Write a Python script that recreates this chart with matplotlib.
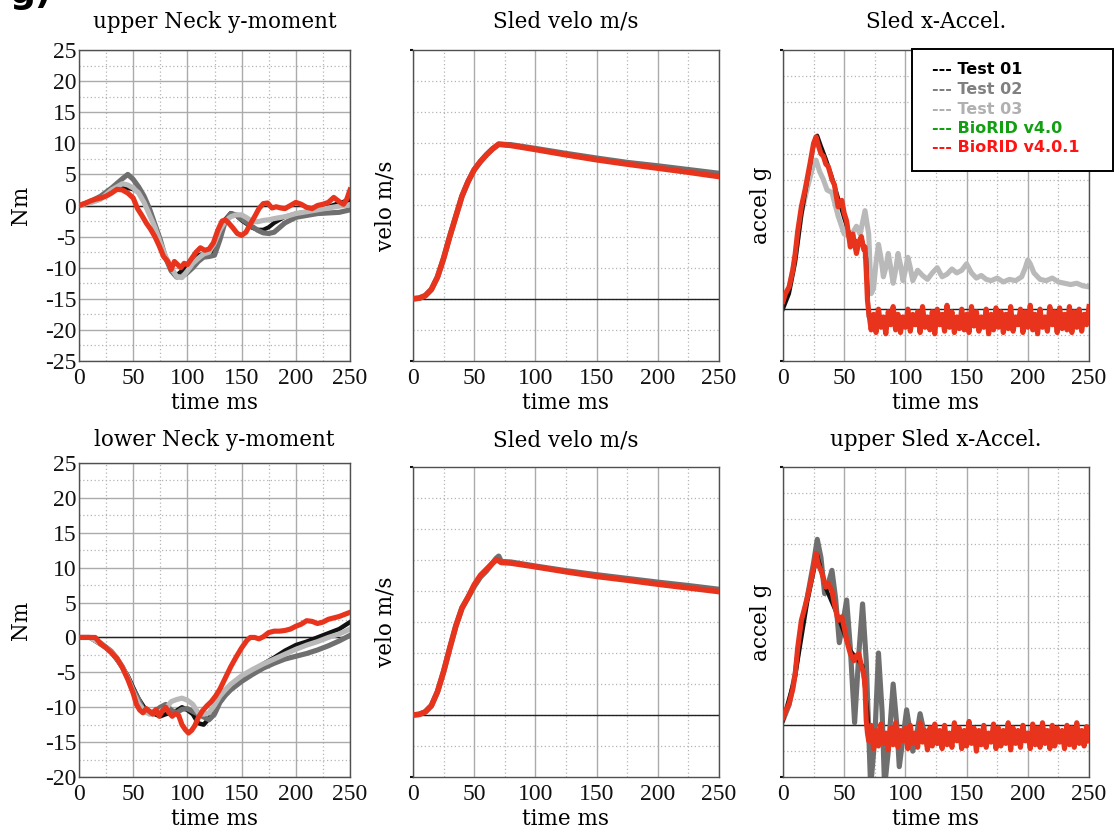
import numpy as np
import matplotlib
matplotlib.use("Agg")
import matplotlib.pyplot as plt
from matplotlib.patches import Rectangle
from matplotlib.ticker import MultipleLocator

plt.rcParams['font.family'] = ['DejaVu Serif']
plt.rcParams['axes.unicode_minus'] = False

# Farben der Kurven
C_T01 = '#111111'
C_T02 = '#6f6f6f'
C_T03 = '#b9b9b9'
C_RED = '#e8341c'

# ---------------- upper Neck y-moment ----------------
un_red_t = [0, 5, 10, 15, 20, 25, 30, 35, 40, 45, 50, 54, 58, 62, 66, 70, 74, 78, 82, 85,
            88, 91, 94, 97, 100, 104, 108, 112, 116, 120, 124, 128, 132, 135, 138, 142, 146, 150, 154, 158,
            162, 166, 170, 174, 178, 182, 186, 190, 195, 200, 205, 210, 215, 220, 225, 230, 235, 238, 241, 244,
            247, 250]
un_red = [0, 0.3, 0.7, 1.0, 1.2, 1.5, 2.0, 2.6, 2.5, 2.0, 1.2, -0.5, -1.6, -2.8, -3.8, -5.0, -6.5, -8.2, -9.0, -10.3,
          -9.0, -9.5, -10.0, -9.3, -9.5, -8.5, -7.5, -6.8, -7.2, -7.0, -6.0, -4.0, -2.5, -2.3, -2.8, -3.6, -4.5, -4.8, -4.3, -3.0,
          -1.8, -0.5, 0.3, 0.4, -0.4, -0.2, -0.4, -0.5, 0.0, 0.5, 0.2, -0.3, -0.5, 0.0, 0.2, 0.5, 1.3, 0.9, 0.5, 0.2,
          1.0, 2.5]
un_t = [0, 10, 20, 30, 40, 45, 50, 55, 60, 65, 70, 75, 80, 85, 90, 95, 100, 105, 110, 115,
        120, 125, 130, 135, 140, 145, 150, 155, 160, 165, 170, 175, 180, 190, 200, 210, 220, 230, 240, 250]
un_t01 = [0, 0.5, 1.2, 2.2, 3.0, 2.8, 2.6, 2.3, 1.0, -1.2, -3.5, -6.0, -8.5, -10.3, -11.2, -10.5, -9.8, -9.0, -8.0, -7.8,
          -7.8, -7.2, -4.5, -2.2, -1.2, -1.6, -2.4, -3.0, -3.6, -3.9, -3.9, -3.5, -2.8, -1.8, -1.3, -1.0, -0.7, -0.2, 0.4, 0.9]
un_t02 = [0, 0.6, 1.5, 2.8, 4.3, 5.0, 4.2, 3.0, 1.5, -0.5, -3.0, -5.5, -8.5, -10.5, -11.5, -11.4, -10.8, -10.0, -9.0, -8.3,
          -8.2, -8.0, -5.5, -2.5, -1.3, -1.5, -2.2, -2.8, -3.4, -4.0, -4.4, -4.5, -4.3, -2.8, -1.9, -1.6, -1.3, -1.2, -1.1, -0.7]
un_t03 = [0, 0.4, 1.0, 2.5, 3.5, 3.3, 2.8, 2.0, 0.5, -1.5, -3.5, -6.0, -8.2, -10.0, -11.4, -11.6, -10.5, -9.3, -8.5, -7.8,
          -7.5, -6.0, -3.9, -2.5, -1.8, -1.5, -1.5, -2.0, -2.6, -2.6, -2.4, -2.3, -2.1, -1.8, -1.3, -1.0, -0.7, -0.4, -0.1, 0.1]

# ---------------- lower Neck y-moment ----------------
ln_red_t = [0, 10, 15, 20, 25, 30, 35, 40, 45, 50, 53, 56, 59, 62, 65, 68, 71, 74, 77, 80,
            83, 86, 89, 92, 95, 98, 101, 104, 107, 110, 114, 118, 122, 126, 130, 135, 140, 145, 150, 155,
            158, 162, 166, 170, 175, 180, 185, 190, 195, 200, 205, 210, 215, 220, 225, 230, 235, 240, 245, 250]
ln_red = [0, 0, 0, -0.9, -1.5, -2.2, -3.0, -4.3, -6.0, -8.0, -9.6, -10.4, -10.8, -10.2, -10.6, -11.0, -10.3, -11.3, -10.5, -10.0,
          -10.8, -11.3, -10.9, -11.2, -12.5, -13.2, -13.7, -13.3, -12.6, -11.5, -10.5, -9.8, -9.2, -8.4, -7.4, -5.8, -4.2, -2.8, -1.5, -0.4,
          0.0, 0.0, -0.2, 0.1, 0.7, 0.9, 0.9, 1.0, 1.2, 1.6, 1.9, 2.4, 2.3, 2.0, 2.2, 2.6, 2.8, 3.0, 3.3, 3.6]
ln_t = [0, 10, 20, 25, 30, 35, 40, 45, 50, 55, 60, 65, 70, 75, 80, 85, 90, 95, 100, 105,
        110, 115, 120, 125, 130, 135, 140, 150, 160, 170, 180, 190, 200, 210, 220, 230, 240, 250]
ln_t01 = [0, 0, -1.0, -1.5, -2.2, -3.2, -4.3, -5.5, -7.2, -8.8, -10.0, -10.6, -11.0, -11.3, -11.0, -10.8, -10.5, -10.0, -10.4, -11.0,
          -12.3, -12.5, -11.6, -10.3, -9.3, -8.2, -7.3, -6.0, -4.9, -3.8, -2.9, -1.9, -1.1, -0.6, 0.0, 0.6, 1.2, 2.2]
ln_t02 = [0, 0, -0.8, -1.4, -2.0, -3.0, -4.2, -5.8, -7.5, -8.9, -10.6, -10.8, -10.6, -10.0, -9.6, -10.4, -10.8, -10.3, -10.2, -10.6,
          -11.0, -11.4, -11.8, -11.0, -9.3, -8.3, -7.5, -6.3, -5.3, -4.4, -3.7, -3.1, -2.7, -2.3, -1.8, -1.2, -0.5, 0.3]
ln_t03 = [0, 0, -0.9, -1.5, -2.1, -3.0, -4.3, -5.8, -7.8, -9.5, -10.5, -11.0, -10.8, -10.6, -10.2, -9.2, -8.9, -8.7, -9.0, -9.6,
          -10.8, -11.0, -10.8, -9.7, -8.4, -7.5, -6.7, -5.5, -4.6, -3.8, -3.1, -2.4, -1.7, -1.1, -0.6, 0.0, 0.5, 1.2]

# ---------------- Sled velo (oben) ----------------
v1_t = [0, 5, 10, 15, 20, 25, 30, 35, 40, 45, 50, 55, 60, 65, 70, 80, 100, 125, 150, 175, 200, 225, 250]
v1_red = [0, 0.02, 0.1, 0.3, 0.7, 1.3, 2.0, 2.65, 3.3, 3.77, 4.15, 4.41, 4.63, 4.82, 4.97, 4.93, 4.8, 4.63, 4.47, 4.33, 4.2, 4.07, 3.93]
v1_t02 = [0, 0.02, 0.1, 0.3, 0.7, 1.3, 2.0, 2.65, 3.3, 3.77, 4.15, 4.41, 4.63, 4.82, 4.97, 4.95, 4.83, 4.67, 4.52, 4.38, 4.27, 4.15, 4.03]

# ---------------- Sled velo (unten) ----------------
v2_t = [0, 5, 10, 15, 20, 25, 30, 35, 40, 45, 50, 55, 60, 65, 68, 70, 72, 80, 100, 125, 150, 175, 200, 225, 250]
v2_red = [0, 0.02, 0.1, 0.3, 0.75, 1.4, 2.15, 2.87, 3.45, 3.8, 4.2, 4.5, 4.7, 4.9, 5.0, 4.98, 4.92, 4.9, 4.78, 4.62, 4.47, 4.35, 4.22, 4.1, 3.98]
v2_t02 = [0, 0.02, 0.1, 0.3, 0.75, 1.4, 2.15, 2.87, 3.45, 3.8, 4.15, 4.45, 4.65, 4.9, 5.05, 5.12, 4.95, 4.93, 4.8, 4.65, 4.52, 4.4, 4.28, 4.17, 4.05]

# ---------------- Sled x-Accel. ----------------
a1_red_t = [0, 2, 5, 8, 10, 12, 15, 18, 20, 22, 25, 27, 29, 31, 33, 35, 37, 40, 42, 45,
            48, 50, 52, 55, 57, 58, 60, 62, 64, 66, 67, 68, 69]
a1_red = [0.3, 0.6, 0.86, 1.5, 2.15, 3.0, 3.95, 4.6, 5.1, 5.6, 6.4, 6.65, 6.3, 6.0, 5.9, 5.6, 5.5, 5.0, 4.8, 3.95,
          4.2, 3.7, 3.4, 2.4, 2.9, 2.66, 2.15, 2.6, 2.8, 2.3, 2.4, 1.5, 0.35]
# ab 70 ms, alle 2 ms
a1_red_rest = [-0.10, -0.80, -0.20, -0.90, 0.00, -0.70, -0.30, -0.95, -0.10, -0.60,
               0.10, -0.80, -0.20, -0.90, -0.30, -0.70, 0.00, -0.85, -0.20, -0.60,
               -0.10, -0.90, 0.10, -0.70, -0.30, -0.80, -0.10, -0.95, 0.00, -0.60,
               -0.20, -0.85, 0.15, -0.70, -0.10, -0.90, -0.30, -0.75, 0.00, -0.80,
               -0.20, -0.90, 0.10, -0.65, -0.10, -0.85, -0.30, -0.70, 0.00, -0.95,
               -0.20, -0.80, 0.05, -0.70, -0.10, -0.90, -0.20, -0.75, 0.10, -0.85,
               -0.30, -0.60, 0.00, -0.90, -0.10, -0.70, 0.15, -0.80, -0.20, -0.95,
               0.00, -0.70, -0.30, -0.85, 0.10, -0.60, -0.10, -0.90, 0.05, -0.75,
               -0.20, -0.80, 0.10, -0.90, -0.10, -0.70, 0.00, -0.85, -0.20, -0.60,
               0.10]
a1_t01_t = [0, 5, 10, 15, 20, 25, 28, 31, 35, 40, 45, 50, 55, 60, 65, 68, 70, 250]
a1_t01 = [0.0, 0.6, 1.8, 3.6, 5.0, 6.3, 6.7, 6.3, 5.8, 5.1, 4.3, 3.5, 2.8, 2.6, 2.6, 2.0, -0.3, -0.35]
a1_t03_t = [0, 5, 10, 15, 20, 25, 27, 30, 33, 36, 40, 45, 50, 55, 60, 63, 67, 70, 72, 74,
            76, 78, 80, 82, 84, 86, 88, 90, 92, 94, 96, 98, 100, 102, 104, 106, 108, 110, 114, 118,
            122, 126, 130, 134, 138, 142, 146, 150, 154, 158, 162, 166, 170, 175, 180, 185, 190, 195, 198, 200,
            202, 205, 210, 215, 220, 225, 230, 235, 240, 245, 250]
a1_t03 = [0.3, 0.8, 2.0, 3.7, 4.7, 5.6, 5.75, 5.3, 5.0, 4.6, 4.5, 3.6, 2.9, 2.8, 3.2, 2.9, 3.8, 2.9, 0.6, 0.8,
          1.8, 2.5, 2.0, 1.25, 1.6, 2.15, 1.6, 1.0, 1.5, 2.15, 1.7, 1.1, 1.5, 2.0, 1.6, 1.1, 1.3, 1.5, 1.3, 1.15,
          1.4, 1.6, 1.25, 1.35, 1.55, 1.4, 1.5, 1.75, 1.4, 1.2, 1.3, 1.15, 1.1, 1.2, 1.05, 1.15, 1.1, 1.25, 1.6, 1.9,
          1.75, 1.4, 1.15, 1.1, 1.2, 1.05, 1.0, 0.95, 1.0, 0.9, 0.86]

# ---------------- upper Sled x-Accel. ----------------
a2_red_t = [0, 2, 5, 8, 10, 12, 15, 18, 20, 22, 25, 27, 29, 31, 33, 35, 37, 40, 42, 45,
            48, 50, 52, 55, 58, 60, 62, 64, 66, 67, 68, 69]
a2_red = [0.3, 0.55, 0.84, 1.4, 2.0, 3.0, 4.06, 4.6, 4.97, 5.4, 6.1, 6.65, 6.2, 6.0, 5.7, 5.35, 5.5, 5.2, 4.7, 4.06,
          4.2, 3.8, 3.3, 2.77, 2.5, 2.7, 2.77, 2.3, 2.0, 1.5, 0.2, -0.3]
a2_red_rest = [-0.60, 0.00, -0.90, -0.20, -0.80, 0.05, -0.70, -0.30, -0.95, -0.10,
               -0.75, 0.10, -0.85, -0.20, -0.60, -0.10, -0.90, 0.00, -0.70, -0.30,
               -0.85, 0.10, -0.65, -0.20, -0.95, -0.10, -0.80, 0.05, -0.70, -0.20,
               -0.90, 0.00, -0.75, -0.30, -0.85, 0.10, -0.60, -0.10, -0.90, -0.20,
               -0.80, 0.15, -0.70, -0.10, -1.00, -0.20, -0.75, 0.00, -0.85, -0.30,
               -0.65, 0.05, -0.90, -0.10, -0.80, -0.20, -0.70, 0.10, -0.95, -0.10,
               -0.70, -0.20, -0.85, 0.00, -0.60, -0.30, -0.90, 0.05, -0.75, -0.10,
               -0.85, 0.10, -0.70, -0.20, -0.90, 0.00, -0.80, -0.10, -0.65, -0.20,
               -0.90, 0.00, -0.75, -0.10, -0.85, 0.10, -0.70, -0.20, -0.80, -0.05,
               -0.60]
a2_t01_t = [0, 10, 20, 28, 35, 45, 55, 65, 69, 70, 250]
a2_t01 = [0.2, 1.9, 4.8, 6.6, 5.3, 4.2, 2.9, 2.3, 0.5, -0.4, -0.4]
a2_t02_t = [0, 5, 10, 15, 20, 25, 28, 31, 34, 37, 40, 43, 46, 49, 52, 55, 58.5, 62, 65, 68,
            71.6, 75, 78, 81, 83, 86, 90, 93, 95, 98, 101, 104, 106, 109, 112, 115, 118, 122, 126, 130,
            140, 160, 250]
a2_t02 = [0.2, 0.8, 2.0, 3.8, 5.0, 6.3, 7.2, 6.5, 5.1, 5.5, 6.0, 4.9, 3.2, 4.0, 4.85, 3.0, 0.1, 2.8, 4.7, 2.5,
          -2.4, -0.5, 2.8, 0.5, -2.4, -1.0, 1.6, 0.0, -1.6, -0.5, 0.6, -0.3, -1.0, -0.4, 0.45, -0.2, -0.8, -0.1, -0.7, -0.3,
          -0.4, -0.4, -0.4]

titles = ['upper Neck y-moment', 'Sled velo m/s', 'Sled x-Accel.',
          'lower Neck y-moment', 'Sled velo m/s', 'upper Sled x-Accel.']
ylabels = ['Nm', 'velo m/s', 'accel g', 'Nm', 'velo m/s', 'accel g']

W, H = 1115, 834
LABEL_FS = 15.5
TICK_FS = 17


def px_axes(fig, left, top, right, bottom):
    ax = fig.add_axes([left / W, 1 - bottom / H, (right - left) / W, (bottom - top) / H])
    ax._px = (left, top, right, bottom)
    return ax


def style(ax, title, title_y, ylabel, ylabel_right, ylim, ymajor, yminor, ticks):
    left, top, right, bottom = ax._px
    ax.set_xlim(0, 250)
    ax.set_ylim(*ylim)
    ax.xaxis.set_major_locator(MultipleLocator(50))
    ax.xaxis.set_minor_locator(MultipleLocator(25))
    ax.grid(which='major', axis='x', color='#ababab', lw=1.0, ls='-')
    ax.grid(which='minor', axis='x', color='#b4b4b4', lw=0.9, ls=(0, (1, 2)))
    if ymajor:
        ax.yaxis.set_major_locator(MultipleLocator(ymajor))
        ax.grid(which='major', axis='y', color='#ababab', lw=1.0, ls='-')
    if yminor:
        ax.yaxis.set_minor_locator(MultipleLocator(yminor))
        ax.grid(which='minor', axis='y', color='#b4b4b4', lw=0.9, ls=(0, (1, 2)))
    ax.set_axisbelow(True)
    for sp in ax.spines.values():
        sp.set_color('#505050')
        sp.set_linewidth(1.0)
    ax.tick_params(which='both', length=0, colors='#111111')
    ax.tick_params(axis='x', pad=5)
    ax.tick_params(axis='y', pad=2)
    for lab in ax.get_xticklabels() + ax.get_yticklabels():
        lab.set_family('Liberation Serif')
        lab.set_fontsize(TICK_FS)
    if not ticks:
        ax.set_yticks(list(ylim))
        ax.set_yticklabels([])
        ax.tick_params(axis='y', which='major', length=2, width=1.5)
    ax.axhline(0, color='#222222', lw=1.0, zorder=1.5)
    fig.text((left + right) / 2 / W, 1 - title_y / H, title, fontsize=LABEL_FS,
             ha='center', va='center')
    ax.set_xlabel('time ms', fontsize=LABEL_FS)
    ax.xaxis.set_label_coords(0.5, -31 / (bottom - top))
    ax.xaxis.label.set_va('top')
    ax.set_ylabel(ylabel, fontsize=LABEL_FS)
    ax.yaxis.set_label_coords((ylabel_right - left) / (right - left), 0.5)


fig = plt.figure(figsize=(W / 100, H / 100), dpi=100)

ax1 = px_axes(fig, 79, 50, 350, 361)
ax2 = px_axes(fig, 413, 50, 719, 361)
ax3 = px_axes(fig, 783, 50, 1089, 361)
ax4 = px_axes(fig, 79, 463, 350, 777)
ax5 = px_axes(fig, 413, 467, 719, 777)
ax6 = px_axes(fig, 783, 467, 1089, 777)

style(ax1, titles[0], 22, ylabels[0], 32, (-25, 25), 5, 2.5, True)
style(ax2, titles[1], 22, ylabels[1], 397, (-2, 8), None, 1, False)
style(ax3, titles[2], 22, ylabels[2], 772, (-2, 10), None, 1, False)
style(ax4, titles[3], 440, ylabels[3], 32, (-20, 25), 5, 2.5, True)
style(ax5, titles[4], 440, ylabels[4], 397, (-2, 8), None, 1, False)
style(ax6, titles[5], 440, ylabels[5], 772, (-2, 10), None, 1, False)

LW = 3.7
# upper Neck
ax1.plot(un_t, un_t01, color=C_T01, lw=3.0, zorder=2)
ax1.plot(un_t, un_t02, color=C_T02, lw=LW, zorder=2.1)
ax1.plot(un_t, un_t03, color=C_T03, lw=LW, zorder=2.2)
ax1.plot(un_red_t, un_red, color=C_RED, lw=LW, zorder=3)

# lower Neck
ax4.plot(ln_t, ln_t01, color=C_T01, lw=3.2, zorder=2)
ax4.plot(ln_t, ln_t02, color=C_T02, lw=LW, zorder=2.1)
ax4.plot(ln_t, ln_t03, color=C_T03, lw=LW, zorder=2.2)
ax4.plot(ln_red_t, ln_red, color=C_RED, lw=LW, zorder=3)

# Velocity
ax2.plot(v1_t, v1_t02, color=C_T02, lw=4.0, zorder=2)
ax2.plot(v1_t, v1_red, color=C_RED, lw=4.0, zorder=3)
ax5.plot(v2_t, v2_t02, color=C_T02, lw=4.0, zorder=2)
ax5.plot(v2_t, v2_red, color=C_RED, lw=4.0, zorder=3)

# Acceleration
rest_t = np.arange(70, 251, 2)
ax3.plot(a1_t03_t, a1_t03, color=C_T03, lw=LW, zorder=2)
ax3.plot(a1_t01_t, a1_t01, color=C_T01, lw=2.8, zorder=2.1)
ax3.plot(np.concatenate([a1_red_t, rest_t]), np.concatenate([a1_red, a1_red_rest]),
         color=C_RED, lw=LW, zorder=3)

ax6.plot(a2_t02_t, a2_t02, color=C_T02, lw=LW, zorder=2)
ax6.plot(a2_t01_t, a2_t01, color=C_T01, lw=2.8, zorder=2.1)
ax6.plot(np.concatenate([a2_red_t, rest_t]), np.concatenate([a2_red, a2_red_rest]),
         color=C_RED, lw=LW, zorder=3)

# Legende als Textkasten
leg_labels = ['--- Test 01', '--- Test 02', '--- Test 03', '--- BioRID v4.0', '--- BioRID v4.0.1']
leg_colors = ['#000000', '#808080', '#b0b0b0', '#12a012', '#ff1414']
x0, x1 = (912 - 783) / 306, (1113 - 783) / 306
y0, y1 = (361 - 171) / 311, (361 - 49) / 311
ax3.add_patch(Rectangle((x0, y0), x1 - x0, y1 - y0, transform=ax3.transAxes,
                        facecolor='white', edgecolor='black', lw=1.4, clip_on=False, zorder=10))
for i, (lab, col) in enumerate(zip(leg_labels, leg_colors)):
    yy = (361 - (70 + i * 19.5)) / 311
    ax3.text((932 - 783) / 306, yy, lab, color=col, transform=ax3.transAxes,
             fontsize=11.5, fontweight='bold', family='DejaVu Sans', va='center', ha='left', zorder=11)

# Abgeschnittene Beschriftung oben links (im Original nur unterer Rand sichtbar)
fig.text(0.008, 1 - 3 / H, 'g)', fontsize=26, fontweight='bold', family='DejaVu Sans',
         va='baseline', ha='left')

fig.savefig('out.png', dpi=100)
